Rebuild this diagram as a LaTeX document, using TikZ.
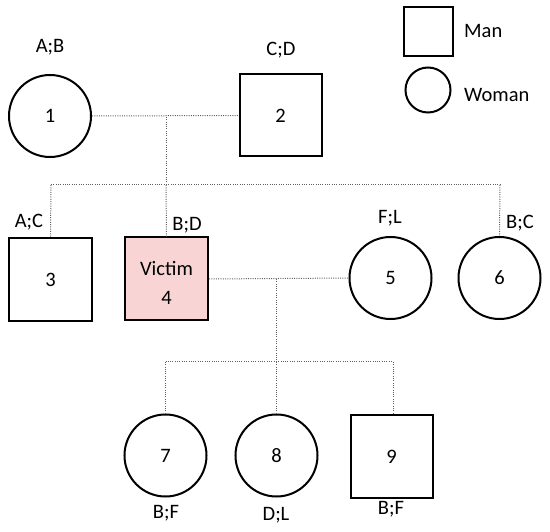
\documentclass[tikz,border=0pt]{standalone}
\usepackage{fontspec}
\setmainfont{Carlito}
\definecolor{victimfill}{RGB}{248,212,212}
\definecolor{kincol}{RGB}{95,95,95}
\begin{document}
\begin{tikzpicture}[x=1pt,y=-1pt,
  every node/.style={font=\fontsize{20.5}{24}\selectfont, inner sep=0pt},
  man/.style={draw, line width=2pt, minimum size=82pt},
  woman/.style={draw, circle, line width=2pt, minimum size=82pt},
  kin/.style={draw=kincol, line width=1pt, dash pattern=on 1pt off 1.3pt},
  geno/.style={}]
\useasboundingbox (0,0) rectangle (550,532);
% persons
\node[woman] (p1) at (50,116) {1};
\node[man] (p2) at (280.5,115.5) {2};
\node[man, minimum size=83pt] (p3) at (50.5,279.5) {3};
\node[man, minimum size=83pt, fill=victimfill] (p4) at (166.5,279) {};
\node (v4a) at (166.5,268) {Victim};
\node (v4b) at (166.5,298) {4};
\node[woman] (p5) at (390.5,278) {5};
\node[woman] (p6) at (499.5,278) {6};
\node[woman] (p7) at (165.5,455.5) {7};
\node[woman] (p8) at (276.5,455.5) {8};
\node[man] (p9) at (391.5,456.5) {9};
% genotypes
\node[geno] (g1) at (50,47) {A;B};
\node[geno] (g2) at (281,50) {C;D};
\node[geno] (g3) at (29,222) {A;C};
\node[geno] (g4) at (187,225) {B;D};
\node[geno] (g5) at (390,218) {F;L};
\node[geno] (g6) at (520,223) {B;C};
\node[geno] (g7) at (166,513) {B;F};
\node[geno] (g8) at (276,515) {D;L};
\node[geno] (g9) at (391,509) {B;F};
% legend
\node[man, minimum size=49pt] (lm) at (428,32) {};
\node[anchor=west] (lmt) at (464,31) {Man};
\node[woman, minimum size=45pt] (lw) at (428,90) {};
\node[anchor=west] (lwt) at (464,95) {Woman};
% family 1
\coordinate (m1) at (166,117);
\coordinate (s1) at (166,185);
\coordinate (s1l) at (51,185);
\coordinate (s1r) at (500,185);
\draw[kin] (p1.east) -- (p2.west);
\draw[kin] (m1) -- (s1);
\draw[kin] (s1l) -- (s1r);
\draw[kin] (s1l) -- (p3.north);
\draw[kin] (s1) -- (p4.north);
\draw[kin] (s1r) -- (p6.north);
% family 2
\coordinate (m2) at (276.5,279);
\coordinate (s2) at (276.5,362);
\coordinate (s2l) at (165.5,362);
\coordinate (s2r) at (393,362);
\draw[kin] (p4.east) -- (p5.west);
\draw[kin] (m2) -- (s2);
\draw[kin] (s2l) -- (s2r);
\draw[kin] (s2l) -- (p7.north);
\draw[kin] (s2) -- (p8.north);
\draw[kin] (s2r) -- (p9.north -| s2r);
\end{tikzpicture}
\end{document}
